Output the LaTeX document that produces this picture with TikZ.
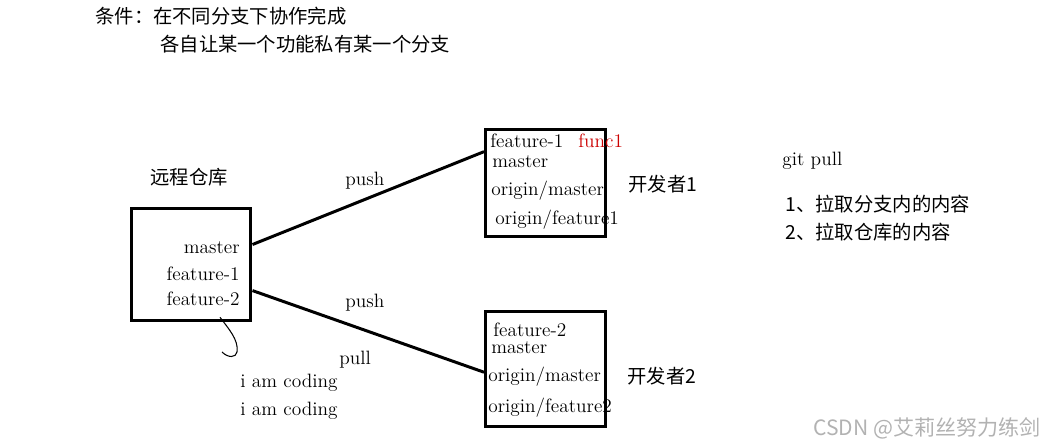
\documentclass[tikz,border=0pt]{standalone}
\usepackage{fontspec}
\newfontfamily\cjk{Noto Sans CJK SC}
\usepackage{xcolor}
\usetikzlibrary{arrows.meta}
\usetikzlibrary{calc}

\begin{document}
\begin{tikzpicture}[x=0.02cm, y=-0.02cm,
	box/.style={draw=black, line width=1.7pt, inner sep=0pt, minimum width=2.4cm},
	txt/.style={font=\fontsize{11}{13}\selectfont, inner sep=0pt, text height=7pt, text depth=2pt},
	hanzi/.style={font=\cjk\fontsize{11}{13}\selectfont, inner sep=0pt, text height=8pt, text depth=1pt},
	link/.style={line width=1.7pt}]
	\useasboundingbox (0,0) rectangle (1046,445);
	% notes at the top
	\node[hanzi, anchor=west] (cond1) at (95,17) {条件：在不同分支下协作完成};
	\node[hanzi, anchor=west] (cond2) at (160,45) {各自让某一个功能私有某一个分支};
	% remote repository
	\node[hanzi, anchor=west] (repoName) at (150,178) {远程仓库};
	\node[box, minimum height=2.24cm] (repo) at (191,264.5) {};
	\node[txt, anchor=east] (repoMaster) at (240,249) {master};
	\node[txt, anchor=east] (repoFeat1) at (240,276) {feature-1};
	\node[txt, anchor=east] (repoFeat2) at (240,301) {feature-2};
	% developer 1
	\node[box, minimum height=2.14cm] (dev1) at (545.5,183) {};
	\node[txt, anchor=west] (dev1Feat) at (490,143) {feature-1};
	\node[txt, anchor=west, text=red!80!black] (dev1Func) at (578,143) {func1};
	\node[txt, anchor=west] (dev1Master) at (492,163) {master};
	\node[txt, anchor=west] (dev1Origin) at (491,191) {origin/master};
	\node[txt, anchor=west] (dev1OriginFeat) at (495,220) {origin/feature1};
	\node[hanzi, anchor=west] (dev1Name) at (628,185) {开发者1};
	% developer 2
	\node[box, minimum height=2.3cm] (dev2) at (545.5,369) {};
	\node[txt, anchor=west] (dev2Feat) at (493,332) {feature-2};
	\node[txt, anchor=west] (dev2Master) at (491,349) {master};
	\node[txt, anchor=west] (dev2Origin) at (488,377) {origin/master};
	\node[txt, anchor=west] (dev2OriginFeat) at (488,408) {origin/feature2};
	\node[hanzi, anchor=west] (dev2Name) at (627,377) {开发者2};
	% connections
	\draw[link] (repo.18) -- (dev1.153);
	\draw[link] (repo.-23) -- (dev2.183);
	\node[txt, anchor=west] (push1) at (345,181) {push};
	\node[txt, anchor=west] (push2) at (345,303) {push};
	\node[txt, anchor=west] (pull) at (339,360) {pull};
	% hand drawn arrow
	\draw[line width=0.6pt] (repoFeat2.south east) ++(-20,8) coordinate (scrib)
		.. controls (228,328) and (239,340) .. (237,352)
		.. controls (236,358) and (228,358) .. (222,352);
	\node[txt, anchor=west] (coding1) at (240,383) {i am coding};
	\node[txt, anchor=west] (coding2) at (240,411) {i am coding};
	% git pull notes
	\node[txt, anchor=west] (gitPull) at (782,161) {git pull};
	\node[hanzi, anchor=west] (pull1) at (785,205) {1、拉取分支内的内容};
	\node[hanzi, anchor=west] (pull2) at (785,233) {2、拉取仓库的内容};
	% watermark
	\node[font=\cjk\fontsize{12}{14}\selectfont, text=black!30, inner sep=0pt, anchor=east] (mark) at (1041,428) {CSDN @艾莉丝努力练剑};
\end{tikzpicture}
\end{document}
